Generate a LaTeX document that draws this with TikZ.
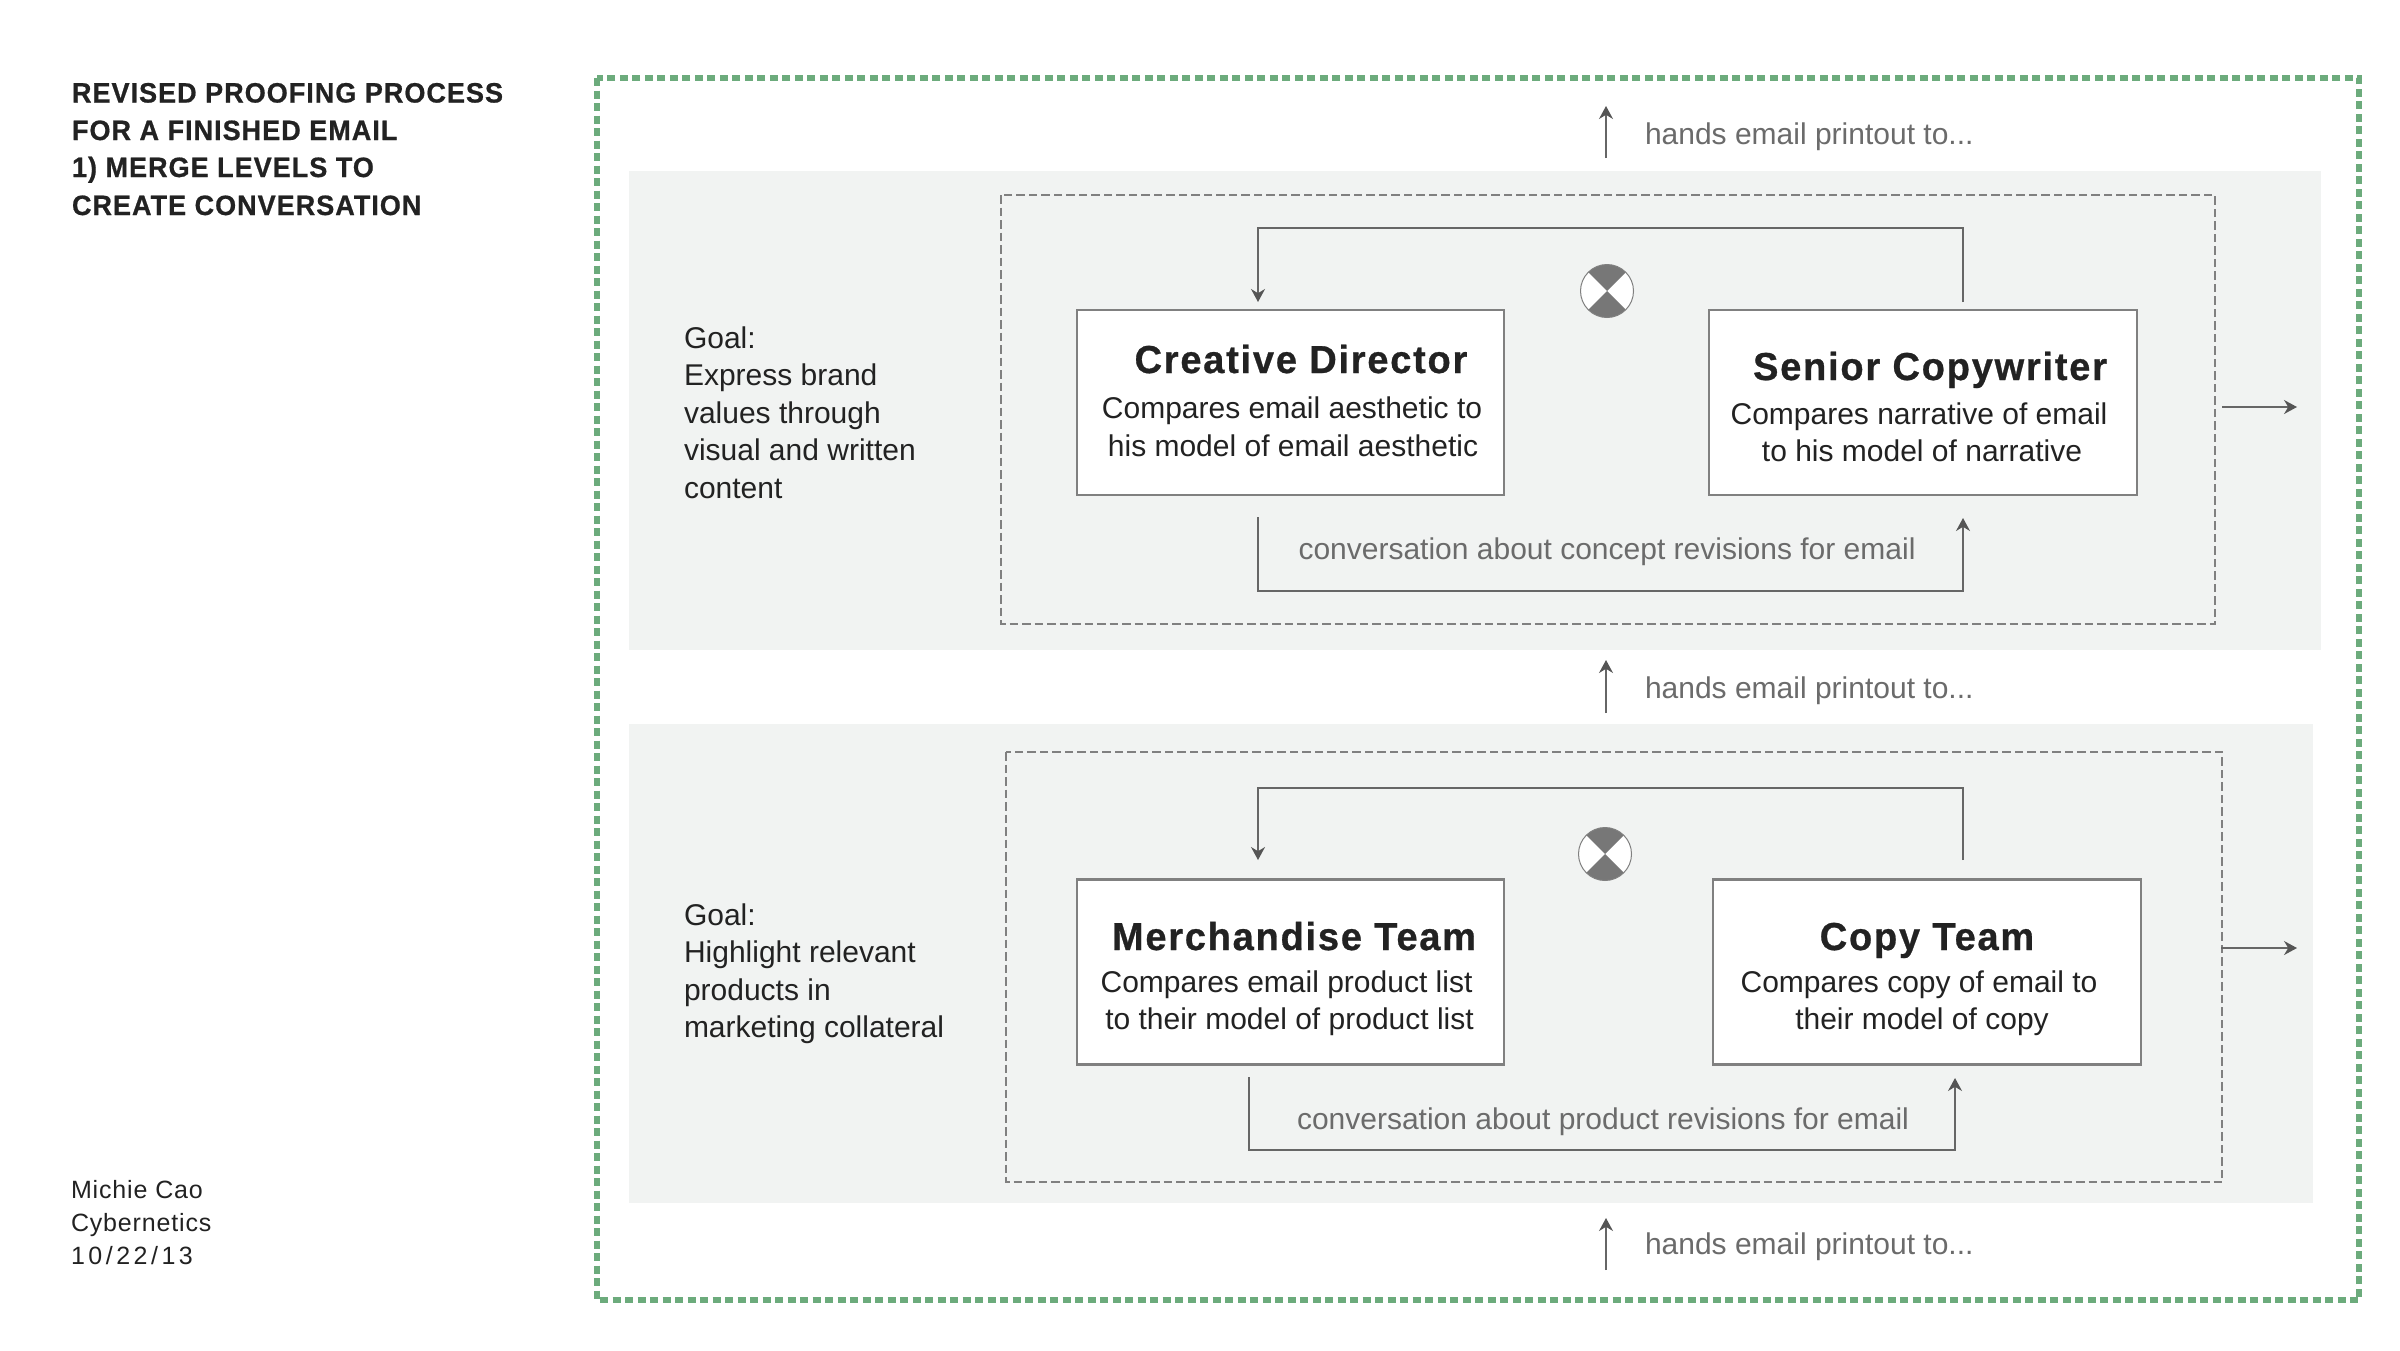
\documentclass[tikz,border=0pt]{standalone}
\usepackage{fontspec}
\usetikzlibrary{arrows.meta}
\setmainfont{Liberation Sans}
\newfontfamily\bodyf{Liberation Sans}
\newfontfamily\titlef[FakeStretch=0.965,LetterSpace=3.6,FakeBold=0.7]{Liberation Sans}
\newfontfamily\headf[FakeStretch=0.975,LetterSpace=4.5,FakeBold=0.7]{Liberation Sans}
\newfontfamily\footf[LetterSpace=3.4]{Liberation Sans}
\newfontfamily\datef[LetterSpace=14]{Liberation Sans}
\definecolor{ink}{HTML}{222222}
\definecolor{soft}{HTML}{6B6B6B}
\definecolor{bandc}{HTML}{F1F3F2}
\definecolor{edgec}{HTML}{808080}
\definecolor{linec}{HTML}{666666}
\definecolor{tipc}{HTML}{555555}
\definecolor{greenc}{HTML}{6CAB7C}
\definecolor{knob}{HTML}{777777}
\tikzset{
  x=1pt,y=-1pt,
  band/.style={fill=bandc,draw=none},
  outerdash/.style={draw=greenc,line width=6.5pt,dash pattern=on 8pt off 4.5pt},
  innerdash/.style={draw=edgec,line width=2.2pt,dash pattern=on 8.5pt off 4pt},
  card/.style={draw=edgec,fill=white,line width=2.4pt,minimum width=427.5pt,minimum height=185pt,inner sep=0pt,outer sep=0pt},
  conn/.style={draw=linec,line width=1.5pt,-{Stealth[length=13pt,width=14pt,color=tipc]}},
  lbl/.style={inner sep=0pt,outer sep=0pt},
  titletxt/.style={lbl,anchor=base west,text=ink,font=\titlef\bfseries\fontsize{28}{28}\selectfont},
  goaltxt/.style={lbl,anchor=base west,text=ink,font=\bodyf\fontsize{30}{30}\selectfont},
  foottxt/.style={lbl,anchor=base west,text=ink,font=\footf\fontsize{25}{25}\selectfont},
  datetxt/.style={lbl,anchor=base west,text=ink,font=\datef\fontsize{25}{25}\selectfont},
  softtxt/.style={lbl,text=soft,font=\bodyf\fontsize{30}{30}\selectfont},
  headtxt/.style={lbl,anchor=base,text=ink,font=\headf\bfseries\fontsize{39}{39}\selectfont},
  desctxt/.style={lbl,anchor=base,text=ink,font=\bodyf\fontsize{30}{30}\selectfont},
}
\newcommand{\hourglass}[2]{%
  \fill[white] (#1,#2) circle[radius=26.5pt];
  \fill[knob] (#1,#2) -- ++(-18.7,-18.7) arc[start angle=135,end angle=45,radius=26.5pt] -- cycle;
  \fill[knob] (#1,#2) -- ++(-18.7,18.7) arc[start angle=225,end angle=315,radius=26.5pt] -- cycle;
  \draw[edgec,line width=1pt] (#1,#2) circle[radius=26.5pt];
}
\begin{document}
\begin{tikzpicture}
\useasboundingbox (0,0) rectangle (2400,1350);
\fill[white] (0,0) rectangle (2400,1350);
% outer frame and bands
\draw[outerdash] (597,78) rectangle (2359,1300);
\path[band] (629,171) rectangle (2321,650);
\path[band] (629,724) rectangle (2313,1203);
\draw[innerdash] (1001,195) rectangle (2215,624);
\draw[innerdash] (1006,752) rectangle (2222,1182);
% title and footer
\node[titletxt] (t1) at (72,102.5) {REVISED PROOFING PROCESS};
\node[titletxt] (t2) at (72,140) {FOR A FINISHED EMAIL};
\node[titletxt] (t3) at (72,177) {1) MERGE LEVELS TO};
\node[titletxt] (t4) at (72,215) {CREATE CONVERSATION};
\node[foottxt] (f1) at (71,1198.5) {Michie Cao};
\node[foottxt] (f2) at (71,1231) {Cybernetics};
\node[datetxt] (f3) at (71,1264) {10/22/13};
% goals
\node[goaltxt] (g1) at (684,348) {Goal:};
\node[goaltxt] (g2) at (684,385.5) {Express brand};
\node[goaltxt] (g3) at (684,423) {values through};
\node[goaltxt] (g4) at (684,460.5) {visual and written};
\node[goaltxt] (g5) at (684,498) {content};
\node[goaltxt] (h1) at (684,925) {Goal:};
\node[goaltxt] (h2) at (684,962.5) {Highlight relevant};
\node[goaltxt] (h3) at (684,1000) {products in};
\node[goaltxt] (h4) at (684,1037.5) {marketing collateral};
% cards
\node[card] (cd) at (1290.5,402.5) {};
\node[card] (sc) at (1923,402.5) {};
\node[card] (mt) at (1290.5,972) {};
\node[card] (ct) at (1927,972) {};
\node[headtxt] (cdh) at (1301,373) {Creative Director};
\node[desctxt] (cd1) at (1292,418) {Compares email aesthetic to};
\node[desctxt] (cd2) at (1293,456) {his model of email aesthetic};
\node[headtxt] (sch) at (1930,380) {Senior Copywriter};
\node[desctxt] (sc1) at (1919,424) {Compares narrative of email};
\node[desctxt] (sc2) at (1922,461) {to his model of narrative};
\node[headtxt] (mth) at (1294,950) {Merchandise Team};
\node[desctxt] (mt1) at (1286.5,992) {Compares email product list};
\node[desctxt] (mt2) at (1289.5,1029) {to their model of product list};
\node[headtxt] (cth) at (1927,950) {Copy Team};
\node[desctxt] (ct1) at (1919,992) {Compares copy of email to};
\node[desctxt] (ct2) at (1922,1029) {their model of copy};
% knobs
\hourglass{1607}{291}
\hourglass{1605}{854}
% labels
\node[softtxt,anchor=base west] (ha) at (1645,144) {hands email printout to...};
\node[softtxt,anchor=base west] (hb) at (1645,698) {hands email printout to...};
\node[softtxt,anchor=base west] (hc) at (1645,1254) {hands email printout to...};
\node[softtxt,anchor=base] (ca) at (1607,559) {conversation about concept revisions for email};
\node[softtxt,anchor=base] (cb) at (1603,1129) {conversation about product revisions for email};
% connector ends
\coordinate (a0) at (1606,158); \coordinate (a1) at (1606,106);
\coordinate (b0) at (1606,713); \coordinate (b1) at (1606,660);
\coordinate (c0) at (1606,1270); \coordinate (c1) at (1606,1218);
\coordinate (r0) at (2222,407); \coordinate (r1) at (2297,407);
\coordinate (s0) at (2221,948); \coordinate (s1) at (2297,948);
\coordinate (u0) at (1963,302); \coordinate (u1) at (1963,228); \coordinate (u2) at (1258,228); \coordinate (u3) at (1258,302);
\coordinate (v0) at (1258,517); \coordinate (v1) at (1258,591); \coordinate (v2) at (1963,591); \coordinate (v3) at (1963,518);
\coordinate (p0) at (1963,860); \coordinate (p1) at (1963,788); \coordinate (p2) at (1258,788); \coordinate (p3) at (1258,860);
\coordinate (q0) at (1249,1077); \coordinate (q1) at (1249,1150); \coordinate (q2) at (1955,1150); \coordinate (q3) at (1955,1078);
% connectors
\draw[conn] (a0) -- (a1);
\draw[conn] (b0) -- (b1);
\draw[conn] (c0) -- (c1);
\draw[conn] (r0) -- (r1);
\draw[conn] (s0) -- (s1);
\draw[conn] (u0) -- (u1) -- (u2) -- (u3);
\draw[conn] (v0) -- (v1) -- (v2) -- (v3);
\draw[conn] (p0) -- (p1) -- (p2) -- (p3);
\draw[conn] (q0) -- (q1) -- (q2) -- (q3);
\end{tikzpicture}
\end{document}
